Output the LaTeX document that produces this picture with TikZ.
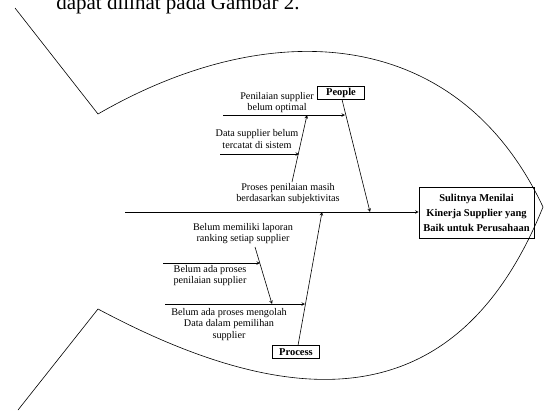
\documentclass[tikz,border=0pt]{standalone}
\usepackage{fontspec}
\setmainfont{Liberation Serif}
\usetikzlibrary{arrows}
\tikzset{l/.style={font=\fontsize{10.2}{11.5}\selectfont,align=center,inner sep=0pt}}
\tikzset{kat/.style={draw,font=\fontsize{10.5}{10.5}\selectfont\bfseries,inner sep=1pt,minimum width=47pt,minimum height=13pt}}
\tikzset{effect/.style={draw,font=\fontsize{10.5}{15}\selectfont\bfseries,align=center,minimum width=115pt,minimum height=51pt,inner sep=2pt}}
\tikzset{bone/.style={->,>=stealth,line width=0.6pt}}

\begin{document}
\begin{tikzpicture}[x=1pt,y=-1pt,line width=0.6pt]
        \useasboundingbox (0,0) rectangle (545,410);
        % text above the figure
        \node[anchor=base west,inner sep=0pt,font=\fontsize{21}{21}\selectfont] (cap) at (56,9) {dapat dilihat pada Gambar 2.};
        % fish outline
        \draw (15,8) -- (98,114) .. controls (271,14) and (458,26) .. (543,207)
          .. controls (456.75,420.2) and (291.6,412.4) .. (98,309) -- (18,410);
        % head and spine
        \node[effect] (E) at (476.5,212.5) {Sulitnya Menilai\\Kinerja Supplier yang\\Baik untuk Perusahaan};
        \coordinate (S) at (125,212);
        \draw[bone] (S) -- (S -| E.west);
        % People
        \node[kat] (P) at (341,93) {People};
        \coordinate (Pj) at (370,212);
        \draw[bone] (342,99.5) -- (Pj);
        \node[l] (p1) at (277,102.5) {Penilaian supplier\\belum optimal};
        \coordinate (p1s) at (223,115);
        \coordinate (p1e) at (345,115);
        \draw[bone] (p1s) -- (p1e);
        \node[l] (p2) at (257,139) {Data supplier belum\\tercatat di sistem};
        \coordinate (p2s) at (220,154);
        \coordinate (p2e) at (299,154);
        \draw[bone] (p2s) -- (p2e);
        \node[l] (p3) at (288,193.5) {Proses penilaian masih\\berdasarkan subjektivitas};
        \coordinate (p3s) at (292,182);
        \coordinate (p3e) at (307,115);
        \draw[bone] (p3s) -- (p3e);
        % Process
        \node[kat] (R) at (296,352) {Process};
        \coordinate (Rj) at (322,212);
        \draw[bone] (298,345.5) -- (Rj);
        \node[l] (r1) at (229,324.5) {Belum ada proses mengolah\\Data dalam pemilihan\\supplier};
        \coordinate (r1s) at (165,304);
        \coordinate (r1e) at (305,304);
        \draw[bone] (r1s) -- (r1e);
        \node[l] (r2) at (210,275.5) {Belum ada proses\\penilaian supplier};
        \coordinate (r2s) at (163,263);
        \coordinate (r2e) at (260,263);
        \draw[bone] (r2s) -- (r2e);
        \node[l] (r3) at (243,233.5) {Belum memiliki laporan\\ranking setiap supplier};
        \coordinate (r3s) at (255,247);
        \coordinate (r3e) at (272,304);
        \draw[bone] (r3s) -- (r3e);
      \end{tikzpicture}
\end{document}
